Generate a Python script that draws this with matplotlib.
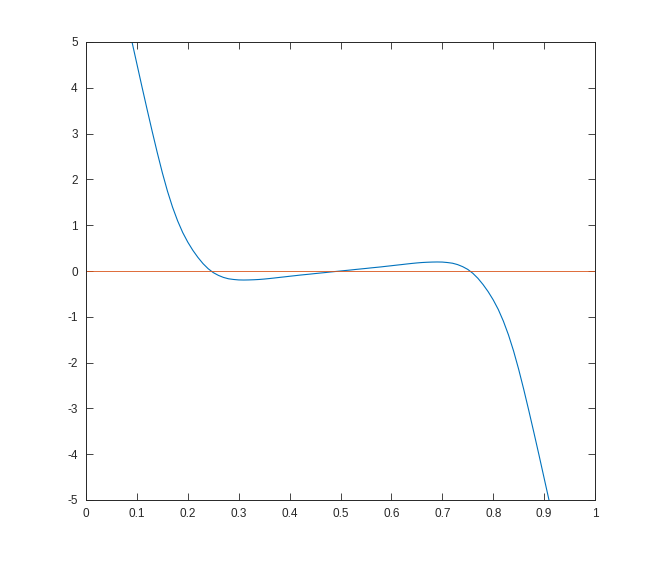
import matplotlib.pyplot as plt

# curve values
x_left = [0.09, 0.10, 0.11, 0.12, 0.13, 0.14, 0.15, 0.16, 0.17, 0.18, 0.19, 0.20,
          0.21, 0.22, 0.23, 0.24, 0.25, 0.26, 0.27, 0.28, 0.29, 0.30, 0.31, 0.32,
          0.33, 0.34, 0.35, 0.36, 0.37, 0.38, 0.39, 0.40, 0.41, 0.42, 0.43, 0.44,
          0.45, 0.46, 0.47, 0.48, 0.49, 0.50]
y_left = [5.02, 4.52, 4.02, 3.53, 3.05, 2.585, 2.145, 1.745, 1.395, 1.095, 0.84, 0.63,
          0.45, 0.295, 0.16, 0.05, -0.035, -0.095, -0.14, -0.17, -0.185, -0.195, -0.197, -0.195,
          -0.191, -0.185, -0.176, -0.165, -0.153, -0.14, -0.128, -0.115, -0.103, -0.09, -0.079, -0.068,
          -0.056, -0.045, -0.034, -0.022, -0.011, 0.0]
x_right = [0.51, 0.52, 0.53, 0.54, 0.55, 0.56, 0.57, 0.58, 0.59, 0.60, 0.61, 0.62,
           0.63, 0.64, 0.65, 0.66, 0.67, 0.68, 0.69, 0.70, 0.71, 0.72, 0.73, 0.74,
           0.75, 0.76, 0.77, 0.78, 0.79, 0.80, 0.81, 0.82, 0.83, 0.84, 0.85, 0.86,
           0.87, 0.88, 0.89, 0.90, 0.91]
y_right = [0.011, 0.022, 0.034, 0.045, 0.056, 0.068, 0.079, 0.09, 0.103, 0.115, 0.128, 0.14,
           0.153, 0.165, 0.176, 0.185, 0.191, 0.195, 0.197, 0.195, 0.185, 0.17, 0.14, 0.095,
           0.035, -0.05, -0.16, -0.295, -0.45, -0.63, -0.84, -1.095, -1.395, -1.745, -2.145, -2.585,
           -3.05, -3.53, -4.02, -4.52, -5.02]

x_ticks = [0, 0.1, 0.2, 0.3, 0.4, 0.5, 0.6, 0.7, 0.8, 0.9, 1]
y_ticks = [-5, -4, -3, -2, -1, 0, 1, 2, 3, 4, 5]

plt.rcParams['font.family'] = ['Liberation Sans', 'DejaVu Sans']

fig = plt.figure(figsize=(6.59, 5.63), dpi=100)
ax = fig.add_axes([86 / 659, 63 / 563, 509 / 659, 458 / 563])

xs = x_left + x_right
ys = y_left + y_right
ax.plot(xs, ys, color='#0072BD', linewidth=0.8)
ax.axhline(0, color='#D95319', linewidth=0.6)

ax.set_xlim(0, 1)
ax.set_ylim(-5, 5)
ax.set_xticks(x_ticks)
ax.set_xticklabels(['0', '0.1', '0.2', '0.3', '0.4', '0.5', '0.6', '0.7', '0.8', '0.9', '1'])
ax.set_yticks(y_ticks)
ax.set_yticklabels([str(v) for v in y_ticks])
ax.tick_params(direction='in', length=5, width=0.6, top=True, right=True,
               labelsize=8.5, colors='#262626', pad=6)
for s in ax.spines.values():
    s.set_color('#262626')
    s.set_linewidth(0.7)

fig.savefig('out.png', dpi=100)
